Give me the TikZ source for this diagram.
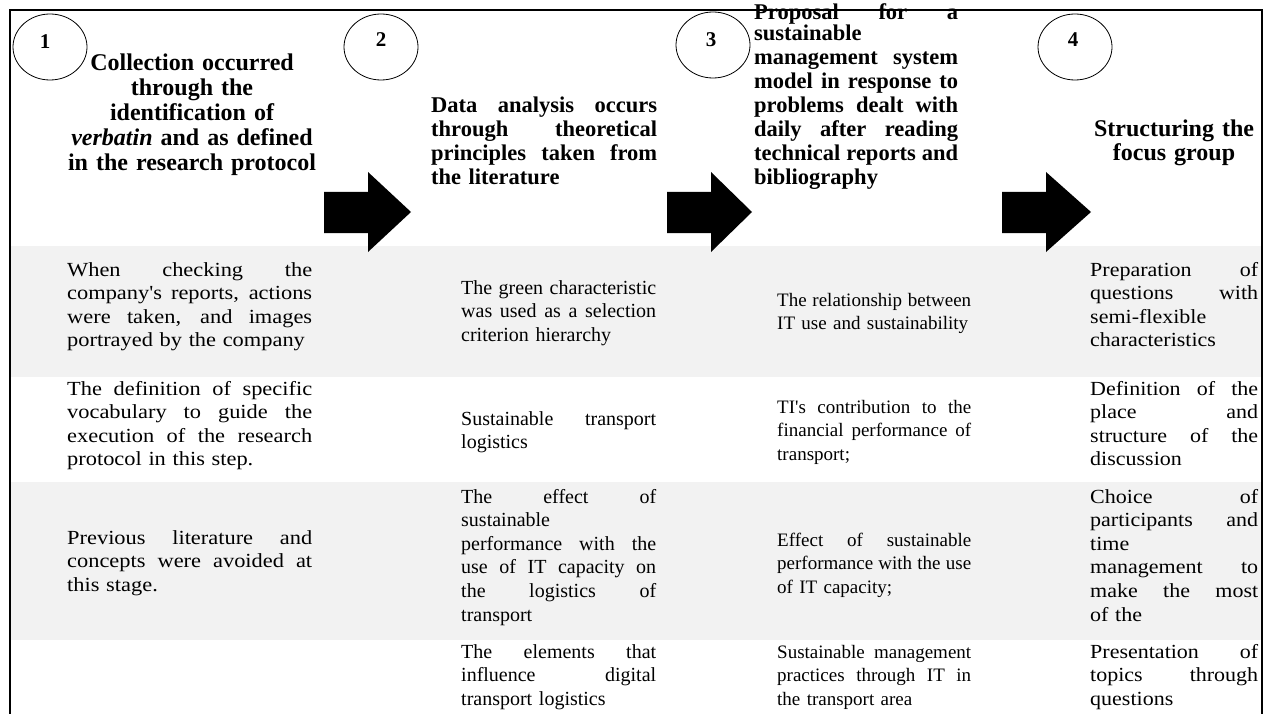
\documentclass[tikz,border=0pt]{standalone}
\usepackage{fontspec}
\setmainfont{Liberation Serif}
\newfontfamily\colAfont{Liberation Serif}[FakeStretch=1.12, Ligatures=TeXOff]
\newfontfamily\colBfont{Liberation Serif}[Ligatures=TeXOff]
\newfontfamily\colCfont{Liberation Serif}[Ligatures=TeXOff]
\newfontfamily\colDfont{Liberation Serif}[FakeStretch=1.1, Ligatures=TeXOff]
\usetikzlibrary{shapes.geometric}
\definecolor{rowgray}{RGB}{242,242,242}
\newcommand{\J}[1]{\makebox[\hsize][s]{\spaceskip=0pt\xspaceskip=0pt\relax #1}}
\newcommand{\q}{\symbol{39}}
\tikzset{
  hdtext/.style={inner sep=0pt, anchor=base west, align=left, font={\fontsize{22.5}{24}\selectfont\bfseries}},
  hdcenter/.style={inner sep=0pt, anchor=base, align=center, font={\fontsize{24}{24.8}\selectfont\bfseries}},
  cell/.style={inner sep=0pt, anchor=base west, align=left},
  cellA/.style={cell, text width=245pt, font={\colAfont\fontsize{20}{23.6}\selectfont}},
  cellB/.style={cell, text width=195pt, font={\colBfont\fontsize{20}{23.6}\selectfont}},
  cellC/.style={cell, text width=194pt, font={\colCfont\fontsize{19}{23.6}\selectfont}},
  cellD/.style={cell, text width=168pt, font={\colDfont\fontsize{20}{23.6}\selectfont}},
  stepnum/.style={ellipse, draw, line width=0.8pt, minimum width=74pt, minimum height=66pt, inner sep=0pt},
  numtext/.style={inner sep=0pt, font={\fontsize{21}{21}\selectfont\bfseries}},
  blockarrow/.style={fill=black},
  framestyle/.style={line width=1.5pt}
}
\begin{document}
\begin{tikzpicture}[x=1pt,y=-1pt]
\useasboundingbox (0,0) rectangle (1271,714);
\clip (0,0) rectangle (1271,714);
% row backgrounds
\fill[rowgray] (10,246) rectangle (1262,377);
\fill[rowgray] (10,482) rectangle (1262,640);
% frame
\coordinate (fbl) at (10,720);
\coordinate (ftl) at (10,10);
\coordinate (ftr) at (1262,10);
\coordinate (fbr) at (1262,720);
\draw[framestyle] (fbl) -- (ftl) -- (ftr) -- (fbr);
% step circles
\node[stepnum] (c1) at (50,47) {};
\node[stepnum] (c2) at (381,47) {};
\node[stepnum] (c3) at (713,45) {};
\node[stepnum] (c4) at (1075,47) {};
\node[numtext] (n1) at (45,42) {1};
\node[numtext] (n2) at (381,40) {2};
\node[numtext] (n3) at (711,40) {3};
\node[numtext] (n4) at (1073,40) {4};
% arrows
\fill[blockarrow] (324,192) -- (368,192) -- (368,172) -- (411,212) -- (368,252) -- (368,233) -- (324,233) -- cycle;
\fill[blockarrow] (667,192) -- (711,192) -- (711,172) -- (752,212) -- (711,252) -- (711,233) -- (667,233) -- cycle;
\fill[blockarrow] (1002,192) -- (1046,192) -- (1046,172) -- (1091,212) -- (1046,252) -- (1046,233) -- (1002,233) -- cycle;
% headers
\node[hdcenter, text width=250pt] (h1) at (192,71) {Collection occurred\\ through the\\ identification of\\ \textit{verbatin} and as defined\\ in the research protocol};
\node[hdtext, text width=226pt] (h2) at (431,113) {\J{Data analysis occurs}\\ \J{through theoretical}\\ \J{principles taken from}\\ the literature};
\node[hdtext, text width=204pt] (h3) at (754,20) {\J{Proposal for a}\\[-3pt] sustainable\\ \J{management system}\\ \J{model in response to}\\ \J{problems dealt with}\\ \J{daily after reading}\\ \J{technical reports and}\\ bibliography};
\node[hdcenter, text width=170pt, font={\fontsize{24}{24}\selectfont\bfseries}] (h4) at (1174,137) {Structuring the\\ focus group};
% row 1
\node[cellA] (r1a) at (67,276) {\J{When checking the}\\ \J{company\q s reports, actions}\\ \J{were taken, and images}\\ portrayed by the company};
\node[cellB] (r1b) at (461,294) {\J{The green characteristic}\\ \J{was used as a selection}\\ criterion hierarchy};
\node[cellC] (r1c) at (777,306) {\J{The relationship between}\\ IT use and sustainability};
\node[cellD] (r1d) at (1090,276) {\J{Preparation of}\\ \J{questions with}\\ semi-flexible\\ characteristics};
% row 2
\node[cellA] (r2a) at (67,395) {\J{The definition of specific}\\ \J{vocabulary to guide the}\\ \J{execution of the research}\\ protocol in this step.};
\node[cellB] (r2b) at (461,425) {\J{Sustainable transport}\\ logistics};
\node[cellC] (r2c) at (777,413) {\J{TI\q s contribution to the}\\ \J{financial performance of}\\ transport;};
\node[cellD] (r2d) at (1090,395) {\J{Definition of the}\\ \J{place and}\\ \J{structure of the}\\ discussion};
% row 3
\node[cellA] (r3a) at (67,544) {\J{Previous literature and}\\ \J{concepts were avoided at}\\ this stage.};
\node[cellB] (r3b) at (461,503) {\J{The effect of}\\ sustainable\\ \J{performance with the}\\ \J{use of IT capacity on}\\ \J{the logistics of}\\ transport};
\node[cellC] (r3c) at (777,546) {\J{Effect of sustainable}\\ \J{performance with the use}\\ of IT capacity;};
\node[cellD] (r3d) at (1090,503) {\J{Choice of}\\ \J{participants and}\\ time\\ \J{management to}\\ \J{make the most}\\ of the};
% row 4
\node[cellB] (r4b) at (461,658) {\J{The elements that}\\ \J{influence digital}\\ transport logistics};
\node[cellC] (r4c) at (777,658) {\J{Sustainable management}\\ \J{practices through IT in}\\ the transport area};
\node[cellD] (r4d) at (1090,658) {\J{Presentation of}\\ \J{topics through}\\ questions};
\end{tikzpicture}
\end{document}
